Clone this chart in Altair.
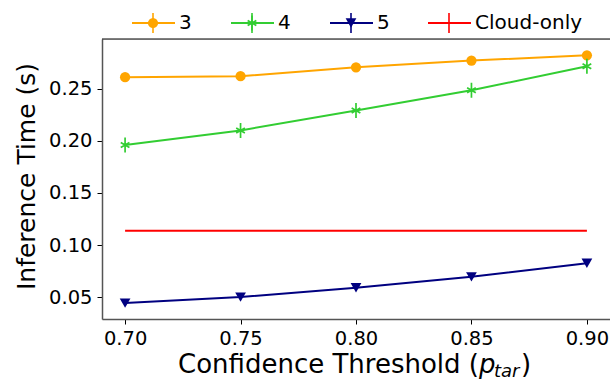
import altair as alt
import pandas as pd

# ---- data ----
thresholds = [0.70, 0.75, 0.80, 0.85, 0.90]
series_names = ["3", "4", "5", "Cloud-only"]
time_3 = [0.261, 0.262, 0.2705, 0.277, 0.282]
time_4 = [0.196, 0.210, 0.229, 0.2485, 0.2715]
time_5 = [0.0443, 0.050, 0.059, 0.0695, 0.0825]
time_cloud = [0.1137, 0.1137, 0.1137, 0.1137, 0.1137]
colors = ["#FFA500", "#32CD32", "#000080", "#FF0000"]
x_ticks = [0.70, 0.75, 0.80, 0.85, 0.90]
y_ticks = [0.05, 0.10, 0.15, 0.20, 0.25]

FONT = "DejaVu Sans"
W, H = 508, 280

rows = []
for name, vals in zip(series_names, [time_3, time_4, time_5, time_cloud]):
    for t, v in zip(thresholds, vals):
        rows.append({"series": name, "threshold": t, "time": v})
df = pd.DataFrame(rows)

xenc = alt.X(
    "threshold:Q",
    scale=alt.Scale(domain=[0.69, 0.91], nice=False, zero=False),
    axis=alt.Axis(values=x_ticks, format=".2f", title=None, labelFontSize=19.5,
                  labelFont=FONT, labelColor="black", tickSize=5, tickColor="black",
                  labelPadding=5, grid=False, domainColor="#555555", domainWidth=1.5),
)
yenc = alt.Y(
    "time:Q",
    scale=alt.Scale(domain=[0.029, 0.2977], nice=False, zero=False),
    axis=alt.Axis(values=y_ticks, format=".2f", title="Inference Time (s)",
                  titleFontSize=25, titleFont=FONT, titleFontWeight="normal",
                  titleColor="black", titleX=-76, titleY=137, titleAngle=-90,
                  titleAlign="center", titleBaseline="middle",
                  labelFontSize=19.5, labelFont=FONT, labelColor="black",
                  tickSize=5, tickColor="black", labelPadding=5, grid=False,
                  domainColor="#555555", domainWidth=1.5),
)

color_scale = alt.Scale(domain=series_names, range=colors)

lines = alt.Chart(df).mark_line(strokeWidth=2).encode(
    x=xenc, y=yenc,
    color=alt.Color("series:N", scale=color_scale, legend=None),
    detail="series:N",
)

ASTER = "M0,-1.5V1.5M-0.87,-0.5L0.87,0.5M-0.87,0.5L0.87,-0.5"

pts3 = alt.Chart(df).transform_filter(alt.datum.series == "3").mark_point(
    shape="circle", filled=True, size=105, color=colors[0], opacity=1
).encode(x="threshold:Q", y="time:Q")
pts4 = alt.Chart(df).transform_filter(alt.datum.series == "4").mark_point(
    shape=ASTER, filled=False, size=100, strokeWidth=1.7, color=colors[1], opacity=1
).encode(x="threshold:Q", y="time:Q")
pts5 = alt.Chart(df).transform_filter(alt.datum.series == "5").mark_point(
    shape="triangle-down", filled=True, size=115, color=colors[2], opacity=1
).encode(x="threshold:Q", y="time:Q")

one = alt.Data(values=[{}])

# top frame line
top_line = alt.Chart(one).mark_rule(color="black", strokeWidth=1).encode(
    x=alt.value(0), x2=alt.value(W), y=alt.value(0)
)

# ---- manual legend (matplotlib errorbar-style handles) ----
legend_layers = []
leg_y = -16
starts = [30, 129, 228, 326]
markers = [
    dict(shape="circle", filled=True, size=105),
    dict(shape=ASTER, filled=False, size=100, strokeWidth=1.7),
    dict(shape="triangle-down", filled=True, size=115),
    None,
]
for name, c, x0, mk in zip(series_names, colors, starts, markers):
    xm = x0 + 21
    legend_layers.append(alt.Chart(one).mark_rule(color=c, strokeWidth=2).encode(
        x=alt.value(x0), x2=alt.value(x0 + 43), y=alt.value(leg_y)))
    legend_layers.append(alt.Chart(one).mark_rule(color=c, strokeWidth=1.6).encode(
        x=alt.value(xm), y=alt.value(leg_y - 10), y2=alt.value(leg_y + 10)))
    if mk is not None:
        legend_layers.append(alt.Chart(one).mark_point(color=c, opacity=1, **mk).encode(
            x=alt.value(xm), y=alt.value(leg_y)))
    legend_layers.append(alt.Chart(one).mark_text(
        align="left", baseline="middle", fontSize=20, font=FONT, color="black"
    ).encode(x=alt.value(x0 + 47), y=alt.value(leg_y), text=alt.value(name)))

# ---- x-axis title with subscript ----
title_y = 334
xt1 = alt.Chart(one).mark_text(align="right", baseline="alphabetic", fontSize=26,
                               font=FONT, color="black").encode(
    x=alt.value(377), y=alt.value(title_y), text=alt.value("Confidence Threshold ("))
xt2 = alt.Chart(one).mark_text(align="left", baseline="alphabetic", fontSize=26,
                               font=FONT, fontStyle="italic", color="black").encode(
    x=alt.value(377), y=alt.value(title_y), text=alt.value("p"))
xt3 = alt.Chart(one).mark_text(align="left", baseline="alphabetic", fontSize=18,
                               font=FONT, fontStyle="italic", color="black").encode(
    x=alt.value(392), y=alt.value(title_y + 4), text=alt.value("tar"))
xt4 = alt.Chart(one).mark_text(align="left", baseline="alphabetic", fontSize=26,
                               font=FONT, color="black").encode(
    x=alt.value(419), y=alt.value(title_y), text=alt.value(")"))

chart = alt.layer(
    lines, pts3, pts4, pts5, top_line, xt1, xt2, xt3, xt4, *legend_layers
).properties(
    width=W, height=H,
    autosize=alt.AutoSizeParams(type="none"),
    padding={"left": 102, "top": 39, "right": 0, "bottom": 61},
).configure_view(stroke="transparent", strokeWidth=0).configure(background="white")

chart.save("out.html", embed_options={"renderer": "svg", "actions": False})
